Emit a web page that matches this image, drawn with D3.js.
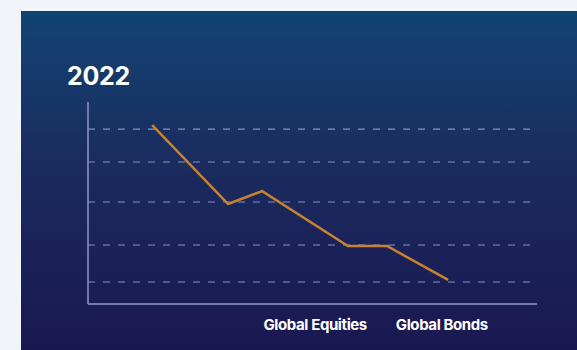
<!DOCTYPE html>
<html><head><meta charset="utf-8">
<script src="https://cdn.jsdelivr.net/npm/d3@7"></script>
<style>html,body{margin:0;padding:0;background:#f1f4f8;overflow:hidden}</style>
</head><body>
<svg id="c" width="577" height="350"></svg>
<script>
const title = "2022";
const xPos = [14.3, 31.2, 38.8, 57.9, 66.6, 80.2];
const yVals = [88.6, 49.5, 55.9, 28.7, 28.7, 11.9];
const gridVals = [86.6, 70.3, 50.5, 29.2, 10.9];
const catLabels = ["Global Equities", "Global Bonds"];
const catPos = [50.6, 78.8];

const svg = d3.select("#c");
const defs = svg.append("defs");
const g = defs.append("linearGradient").attr("id","bg").attr("x1",0).attr("y1",0).attr("x2",0).attr("y2",1);
g.append("stop").attr("offset","0%").attr("stop-color","#114473");
g.append("stop").attr("offset","40%").attr("stop-color","#1a2d60");
g.append("stop").attr("offset","100%").attr("stop-color","#1b1650");
svg.append("rect").attr("width",577).attr("height",350).attr("fill","#f1f4f8");
svg.append("rect").attr("x",21).attr("y",11).attr("width",570).attr("height",350).attr("fill","url(#bg)");

const x = d3.scaleLinear().domain([0,100]).range([88,537]);
const y = d3.scaleLinear().domain([0,100]).range([304,102]);

svg.append("text").attr("x",67).attr("y",85).text(title)
  .attr("fill","#ffffff").attr("font-family","Inter, Liberation Sans, Arial, sans-serif")
  .attr("font-weight","bold").attr("font-size",25).attr("letter-spacing","-0.3");

// gridlines
svg.append("g").selectAll("line").data(gridVals).join("line")
  .attr("x1",x(0)).attr("x2",x(100)).attr("y1",d=>y(d)).attr("y2",d=>y(d))
  .attr("stroke","#a2acd6").attr("stroke-opacity",0.8).attr("stroke-width",1.2)
  .attr("stroke-dasharray","7,8");

// axes
svg.append("line").attr("x1",x(0)).attr("x2",x(0)).attr("y1",y(100)).attr("y2",y(0))
  .attr("stroke","#8e96c8").attr("stroke-width",1.5);
svg.append("line").attr("x1",x(0)).attr("x2",x(100)).attr("y1",y(0)).attr("y2",y(0))
  .attr("stroke","#8e96c8").attr("stroke-width",1.5);

// line
const pts = xPos.map((d,i)=>[d,yVals[i]]);
svg.append("path").datum(pts)
  .attr("d", d3.line().x(d=>x(d[0])).y(d=>y(d[1])))
  .attr("fill","none").attr("stroke","#c9822f").attr("stroke-width",2.5)
  .attr("stroke-linejoin","miter");

// labels
svg.append("g").selectAll("text").data(catLabels).join("text")
  .attr("x",(d,i)=>x(catPos[i])).attr("y",330).attr("text-anchor","middle")
  .text(d=>d).attr("fill","#ffffff").attr("font-family","Inter, Liberation Sans, Arial, sans-serif")
  .attr("font-weight","bold").attr("font-size",15).attr("letter-spacing","-0.4");
</script>
</body></html>
